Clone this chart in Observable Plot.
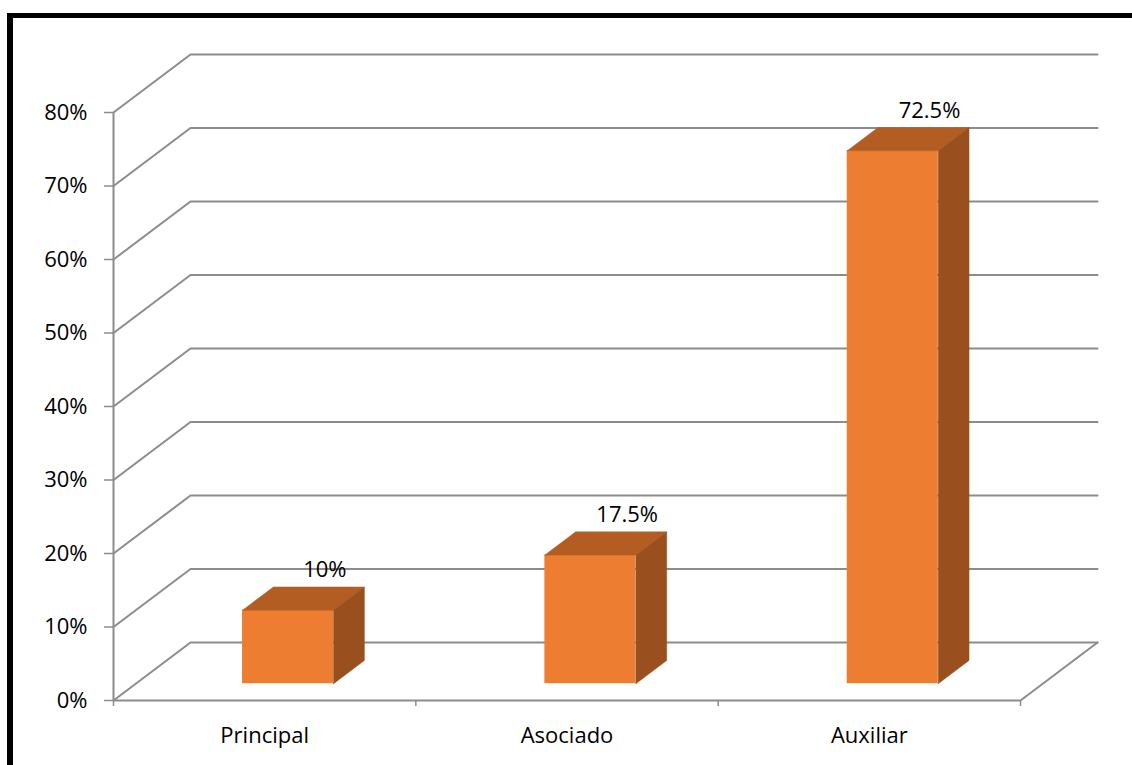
<!DOCTYPE html>
<html>
<head>
<meta charset="utf-8">
<script src="https://cdn.jsdelivr.net/npm/d3@7"></script>
<script src="https://cdn.jsdelivr.net/npm/@observablehq/plot@0.6"></script>
<style>
  html, body { margin: 0; padding: 0; background: #fff; overflow: hidden; width: 1132px; height: 765px; }
  #frame { position: absolute; left: 7px; top: 13px; width: 1300px; height: 900px;
           border-left: 6px solid #000; border-top: 5px solid #000; pointer-events: none; }
  #chart { position: absolute; left: 0; top: 0; }
</style>
</head>
<body>
<div id="chart"></div>
<div id="frame"></div>
<script>
// ---- data ----
const categories = ["Principal", "Asociado", "Auxiliar"];
const values = [10, 17.5, 72.5];
const yTicks = [0, 10, 20, 30, 40, 50, 60, 70, 80];

// ---- 3D projection settings (styling) ----
const DX = 0.2547;   // depth offset along x, in category units
const DY = 7.89;     // depth offset along y, in percent units
const T0 = 0.29, T1 = 0.69;   // bar front / back depth fractions
const U0 = 0.353, U1 = 0.654; // bar left / right within category band
const proj = (x, y, t) => ({x: x + t * DX, y: y + t * DY});

// gridlines on side wall + back wall
const gridPts = [];
yTicks.forEach(v => {
  [proj(0, v, 0), proj(0, v, 1), proj(categories.length, v, 1)].forEach(p => gridPts.push({...p, g: "g" + v}));
});
// floor front + right edges
[proj(0, 0, 0), proj(categories.length, 0, 0), proj(categories.length, 0, 1)].forEach(p => gridPts.push({...p, g: "floor"}));

const frontFaces = [], topFaces = [], sideFaces = [], barLabels = [];
categories.forEach((c, i) => {
  const v = values[i];
  const a = proj(i + U0, 0, T0), b = proj(i + U1, v, T0);
  frontFaces.push({x1: a.x, x2: b.x, y1: a.y, y2: b.y});
  [proj(i + U0, v, T0), proj(i + U1, v, T0), proj(i + U1, v, T1), proj(i + U0, v, T1), proj(i + U0, v, T0)]
    .forEach(p => topFaces.push({...p, c}));
  [proj(i + U1, 0, T0), proj(i + U1, v, T0), proj(i + U1, v, T1), proj(i + U1, 0, T1), proj(i + U1, 0, T0)]
    .forEach(p => sideFaces.push({...p, c}));
  const l = proj(i + (U0 + U1) / 2, v, T1);
  barLabels.push({...l, text: `${v}%`});
});

const gray = "#8c8c8c";
const chart = Plot.plot({
  width: 1132,
  height: 765,
  marginLeft: 113,
  marginRight: 112,
  marginTop: 112,
  marginBottom: 65,
  style: {fontFamily: "'Open Sans', sans-serif", fontSize: "22px", background: "transparent", color: "#000", overflow: "visible"},
  x: {domain: [0, categories.length], axis: null},
  y: {domain: [0, 80], axis: null},
  marks: [
    Plot.line(gridPts, {x: "x", y: "y", z: "g", stroke: gray, strokeWidth: 2}),
    Plot.ruleX([0], {y1: 0, y2: 80, stroke: gray, strokeWidth: 2}),
    Plot.axisY({ticks: yTicks, tickSize: 9, tickPadding: 17, stroke: gray, strokeWidth: 1.5, fill: "#000",
                fontSize: 22, tickFormat: d => d + "%"}),
    Plot.axisX({ticks: d3.range(categories.length + 1), tickSize: 6, stroke: gray, strokeWidth: 1.5, tickFormat: () => ""}),
    Plot.axisX({ticks: categories.map((c, i) => i + 0.5), tickSize: 0, tickPadding: 27, fill: "#000", fontSize: 22,
                tickFormat: d => categories[Math.floor(d)]}),
    Plot.rect(frontFaces, {x1: "x1", x2: "x2", y1: "y1", y2: "y2", fill: "#ED7D31"}),
    Plot.line(topFaces, {x: "x", y: "y", z: "c", fill: "#B45D23", stroke: "#B45D23", strokeWidth: 0.5}),
    Plot.line(sideFaces, {x: "x", y: "y", z: "c", fill: "#994F1E", stroke: "#994F1E", strokeWidth: 0.5}),
    Plot.text(barLabels, {x: "x", y: "y", text: "text", dx: 6, dy: -17, fontSize: 22, fill: "#000", textAnchor: "middle"})
  ]
});
document.getElementById("chart").appendChild(chart);
</script>
</body>
</html>
